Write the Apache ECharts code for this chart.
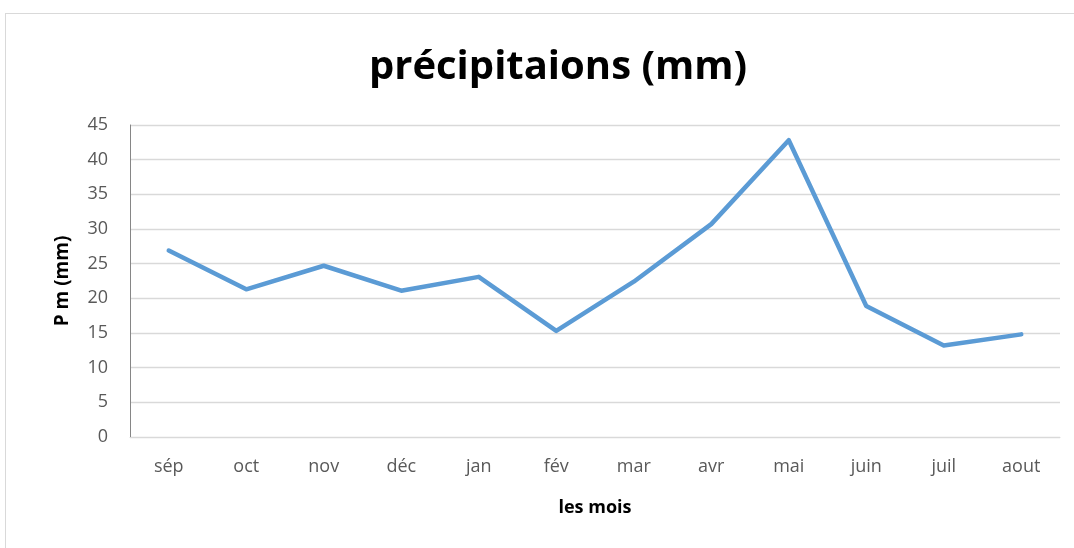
<!DOCTYPE html>
<html>
<head>
<meta charset="utf-8">
<script src="https://cdn.jsdelivr.net/npm/echarts@6/dist/echarts.min.js"></script>
<style>
  html, body { margin: 0; padding: 0; background: #fff; }
  #frame { position: absolute; left: 5px; top: 13px; width: 1080px; height: 545px; border: 1px solid #d9d9d9; }
  #main { position: absolute; left: 0; top: 0; width: 1074px; height: 548px; }
</style>
</head>
<body>
<div id="frame"></div>
<div id="main"></div>
<script>
var months = ['sép', 'oct', 'nov', 'déc', 'jan', 'fév', 'mar', 'avr', 'mai', 'juin', 'juil', 'aout'];
var pluie = [26.9, 21.3, 24.7, 21.1, 23.1, 15.3, 22.4, 30.7, 42.8, 18.9, 13.2, 14.8];

var font = 'Open Sans';
var myChart = echarts.init(document.getElementById('main'));
var option = {
    title: {
        text: 'précipitaions (mm)',
        left: 553,
        textAlign: 'center',
        top: 43,
        textStyle: { fontFamily: font, fontSize: 40, fontWeight: 'bold', color: '#000' }
    },
    grid: { left: 130, right: 14, top: 125, bottom: 111 },
    xAxis: {
        type: 'category',
        data: months,
        name: 'les mois',
        nameLocation: 'middle',
        nameGap: 62,
        nameTextStyle: { fontFamily: font, fontSize: 18, fontWeight: 'bold', color: '#000' },
        axisLine: { lineStyle: { color: '#d9d9d9' } },
        axisTick: { show: false },
        axisLabel: { fontFamily: font, fontSize: 18, color: '#595959', margin: 21 }
    },
    yAxis: {
        type: 'value',
        min: 0,
        max: 45,
        interval: 5,
        name: 'P m (mm)',
        nameLocation: 'middle',
        nameGap: 58,
        nameTextStyle: { fontFamily: font, fontSize: 19, fontWeight: 'bold', color: '#000' },
        axisLine: { show: true, lineStyle: { color: '#868686' } },
        axisTick: { show: false },
        axisLabel: { fontFamily: font, fontSize: 18, color: '#595959', margin: 22 },
        splitLine: { lineStyle: { color: '#d9d9d9', width: 1.3 } }
    },
    series: [
        {
            name: 'précipitations',
            type: 'line',
            data: pluie,
            symbol: 'none',
            lineStyle: { color: '#5b9bd5', width: 4.5, cap: 'round', join: 'round' },
            animation: false
        }
    ]
};
myChart.setOption(option, true);
window.onresize = myChart.resize;
</script>
</body>
</html>
